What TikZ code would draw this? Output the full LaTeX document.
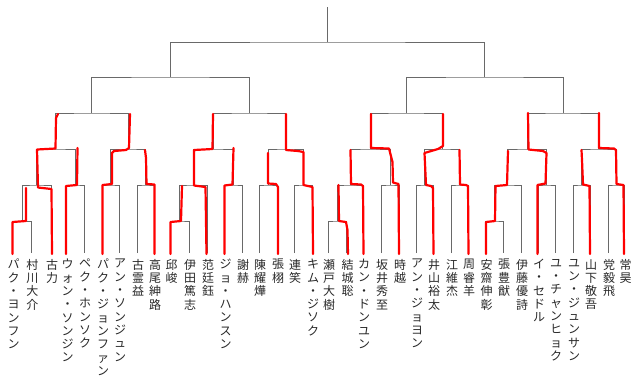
\documentclass[tikz,border=0pt]{standalone}
\usepackage{fontspec}
\newfontfamily\jp{Noto Sans CJK JP}
\definecolor{bgray}{RGB}{105,105,105}
\definecolor{tgray}{RGB}{40,40,40}
\begin{document}
\begin{tikzpicture}[x=1pt,y=-1pt,
  bracket/.style={draw=bgray,line width=1pt},
  win/.style={draw=red,line width=2.2pt,line join=round,line cap=round},
  pname/.style={anchor=north,inner sep=0pt,align=center,text=tgray,
    font=\jp\fontsize{12}{13.3}\selectfont}]
\useasboundingbox (0,0) rectangle (640,384);
% leaf coordinates
\foreach \i/\x in {1/12.5,2/31.5,3/51,4/66.5,5/84,6/102,7/119,8/137,9/154,
  10/170.5,11/189,12/207,13/224.5,14/242,15/259,16/277,17/294,18/312,
  19/328,20/346.5,21/363,22/381,23/399,24/416,25/433,26/451,27/468,
  28/485.5,29/503,30/521,31/538,32/555,33/573,34/590,35/608,36/624.5}
  {\coordinate (l\i) at (\x,253);}
% labels
\node[pname] (n1)  at (13.5,259) {パ\\ク\\・\\ヨ\\ン\\フ\\ン};
\node[pname] (n2)  at (32.5,259) {村\\川\\大\\介};
\node[pname] (n3)  at (52,259) {古\\力};
\node[pname] (n4)  at (67.5,259) {ウ\\ォ\\ン\\・\\ソ\\ン\\ジ\\ン};
\node[pname] (n5)  at (85,259) {ペ\\ク\\・\\ホ\\ン\\ソ\\ク};
\node[pname] (n6)  at (103,259) {パ\\ク\\・\\ジ\\ョ\\ン\\フ\\ァ\\ン};
\node[pname] (n7)  at (120,259) {ア\\ン\\・\\ソ\\ン\\ジ\\ュ\\ン};
\node[pname] (n8)  at (138,259) {古\\霊\\益};
\node[pname] (n9)  at (155,259) {高\\尾\\紳\\路};
\node[pname] (n10) at (171.5,259) {邱\\峻};
\node[pname] (n11) at (190,259) {伊\\田\\篤\\志};
\node[pname] (n12) at (208,259) {范\\廷\\鈺};
\node[pname] (n13) at (225.5,259) {ジ\\ョ\\・\\ハ\\ン\\ス\\ン};
\node[pname] (n14) at (243,259) {謝\\赫};
\node[pname] (n15) at (260,259) {陳\\耀\\燁};
\node[pname] (n16) at (278,259) {張\\栩};
\node[pname] (n17) at (295,259) {連\\笑};
\node[pname] (n18) at (313,259) {キ\\ム\\・\\ジ\\ソ\\ク};
\node[pname] (n19) at (329,259) {瀬\\戸\\大\\樹};
\node[pname] (n20) at (347.5,259) {結\\城\\聡};
\node[pname] (n21) at (364,259) {カ\\ン\\・\\ド\\ン\\ユ\\ン};
\node[pname] (n22) at (382,259) {坂\\井\\秀\\至};
\node[pname] (n23) at (400,259) {時\\越};
\node[pname] (n24) at (417,259) {ア\\ン\\・\\ジ\\ョ\\ヨ\\ン};
\node[pname] (n25) at (434,259) {井\\山\\裕\\太};
\node[pname] (n26) at (452,259) {江\\維\\杰};
\node[pname] (n27) at (469,259) {周\\睿\\羊};
\node[pname] (n28) at (486.5,259) {安\\齋\\伸\\彰};
\node[pname] (n29) at (504,259) {張\\豊\\猷};
\node[pname] (n30) at (522,259) {伊\\藤\\優\\詩};
\node[pname] (n31) at (539,259) {イ\\・\\セ\\ド\\ル};
\node[pname] (n32) at (556,259) {ユ\\・\\チ\\ャ\\ン\\ヒ\\ョ\\ク};
\node[pname] (n33) at (574,259) {ユ\\ン\\・\\ジ\\ュ\\ン\\サ\\ン};
\node[pname] (n34) at (591,259) {山\\下\\敬\\吾};
\node[pname] (n35) at (609,259) {党\\毅\\飛};
\node[pname] (n36) at (625.5,259) {常\\昊};
% match coordinates
\coordinate (P1) at (22,221);      \coordinate (A1) at (36.5,185);
\coordinate (B1) at (75.25,185);   \coordinate (C1) at (110.5,185);
\coordinate (D1) at (145.5,185);   \coordinate (E1) at (55.9,149);
\coordinate (F1) at (128,149);     \coordinate (G1) at (91.9,113);
\coordinate (P2) at (179.75,221);  \coordinate (A2) at (193.4,185);
\coordinate (B2) at (233.25,185);  \coordinate (C2) at (268,185);
\coordinate (D2) at (303,185);     \coordinate (E2) at (213.3,149);
\coordinate (F2) at (285.5,149);   \coordinate (G2) at (249.4,113);
\coordinate (P3) at (337.25,221);  \coordinate (A3) at (350.1,185);
\coordinate (B3) at (390,185);     \coordinate (C3) at (424.5,185);
\coordinate (D3) at (459.5,185);   \coordinate (E3) at (370.1,149);
\coordinate (F3) at (442,149);     \coordinate (G3) at (406,113);
\coordinate (P4) at (494.25,221);  \coordinate (A4) at (507.6,185);
\coordinate (B4) at (546.5,185);   \coordinate (C4) at (581.5,185);
\coordinate (D4) at (616.25,185);  \coordinate (E4) at (527.1,149);
\coordinate (F4) at (598.9,149);   \coordinate (G4) at (563,113);
\coordinate (H1) at (170.7,77);    \coordinate (H2) at (484.5,77);
\coordinate (R) at (327.6,42);     \coordinate (top) at (327.6,7);
% bracket
\foreach \q/\a in {1/0,2/9,3/18,4/27}{
  \pgfmathtruncatemacro\la{\a+1}\pgfmathtruncatemacro\lb{\a+2}
  \pgfmathtruncatemacro\lc{\a+3}\pgfmathtruncatemacro\ld{\a+4}
  \pgfmathtruncatemacro\le{\a+5}\pgfmathtruncatemacro\lf{\a+6}
  \pgfmathtruncatemacro\lg{\a+7}\pgfmathtruncatemacro\lh{\a+8}
  \pgfmathtruncatemacro\li{\a+9}
  \draw[bracket] (l\la) |- (P\q) -| (l\lb);
  \draw[bracket] (P\q) |- (A\q) -| (l\lc);
  \draw[bracket] (l\ld) |- (B\q) -| (l\le);
  \draw[bracket] (l\lf) |- (C\q) -| (l\lg);
  \draw[bracket] (l\lh) |- (D\q) -| (l\li);
  \draw[bracket] (A\q) |- (E\q) -| (B\q);
  \draw[bracket] (C\q) |- (F\q) -| (D\q);
  \draw[bracket] (E\q) |- (G\q) -| (F\q);
}
\draw[bracket] (G1) |- (H1) -| (G2);
\draw[bracket] (G3) |- (H2) -| (G4);
\draw[bracket] (H1) |- (R) -| (H2);
\draw[bracket] (R) -- (top);
% red winner marks
\draw[win] (12.5,254) -- (12.5,222) -- (26,221) -- (26,188);
\draw[win] (52,254) -- (51.5,189) -- (38,187.5) -- (37,149.5) -- (55.5,148.5) -- (56,118) -- (58,114);
\draw[win] (66,254) -- (66,186) -- (77,185) -- (77.5,148);
\draw[win] (102.5,254) -- (102.5,185) -- (112,184) -- (112,153) -- (114,151) -- (126,150) -- (129,148) -- (130,114);
\draw[win] (154.5,254) -- (154.5,184.5) -- (146.5,184) -- (146,158) -- (145,150);
\draw[win] (170.5,254) -- (170.5,222) -- (181,221) -- (182,186);
\draw[win] (206.5,254) -- (205.5,187) -- (194,185.5) -- (194,150) -- (212.5,149) -- (213,114);
\draw[win] (224.5,254) -- (224.5,185.5) -- (232.5,184.5) -- (233.5,148);
\draw[win] (278,254) -- (278,187) -- (276,184) -- (268,183.5) -- (268,153);
\draw[win] (313,254) -- (312.5,187) -- (303.5,185) -- (303.5,152) -- (298,151) -- (286,150) -- (286,114);
\draw[win] (348,254) -- (347.5,230) -- (346,222) -- (339,221) -- (338.5,185);
\draw[win] (363.5,254) -- (363,186) -- (361,184.5) -- (351,184) -- (350.5,150);
\draw[win] (399,254) -- (398.5,184) -- (393,182.5) -- (392.5,162) -- (389,148.5) -- (371,148) -- (371,114);
\draw[win] (433.5,254) -- (433,188) -- (431,186) -- (426,185) -- (424.5,153) -- (438,149) -- (443,146) -- (443,114);
\draw[win] (468.5,254) -- (468,186) -- (466,185) -- (460,184.5) -- (459.5,150);
\draw[win] (486,254) -- (486,222) -- (495,221) -- (495.5,186) -- (507,185) -- (508,151);
\draw[win] (537.5,254) -- (537.5,185) -- (545.5,183.5) -- (546.5,153) -- (543,151) -- (528.5,149.5) -- (528,113);
\draw[win] (590,254) -- (589.5,186) -- (583,184.5) -- (582,160) -- (581.5,150);
\draw[win] (624,254) -- (623.5,185) -- (616.5,184) -- (616,150) -- (614,148.5) -- (599,148) -- (599,113);
\end{tikzpicture}
\end{document}
